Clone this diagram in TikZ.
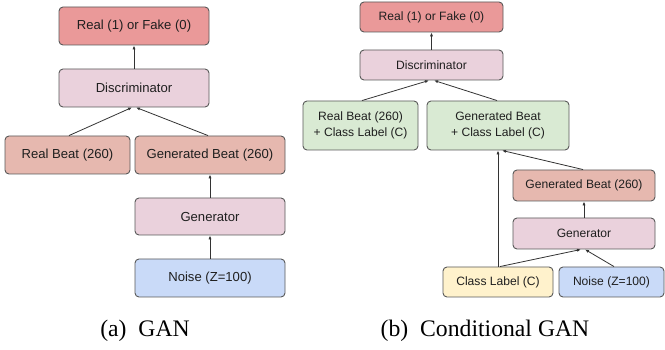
\documentclass[tikz,border=0pt]{standalone}
\usepackage{fontspec}
\setmainfont{Liberation Serif}
\newfontfamily\boxfont{Liberation Sans}
\usetikzlibrary{arrows.meta}
\definecolor{cRF}{HTML}{EA9999}
\definecolor{cDG}{HTML}{EAD1DC}
\definecolor{cBeat}{HTML}{E6B8AF}
\definecolor{cNoise}{HTML}{C9DAF8}
\definecolor{cGreen}{HTML}{D9EAD3}
\definecolor{cYellow}{HTML}{FFF2CC}
\definecolor{cBorder}{HTML}{595959}
\definecolor{cText}{HTML}{1F1F1F}
\definecolor{cArrow}{HTML}{333333}
\tikzset{
  box/.style={draw=cBorder, line width=0.9pt, rounded corners=4pt, inner sep=0pt,
    text=cText, align=center},
  lbox/.style={box, font=\boxfont\fontsize{13.1}{16}\selectfont},
  rbox/.style={box, font=\boxfont\fontsize{12.1}{16.5}\selectfont},
  arr/.style={draw=cArrow, line width=0.8pt, -{Latex[length=4pt,width=3.2pt]}},
  captext/.style={font=\fontsize{23.7}{28}\selectfont, anchor=base, inner sep=0pt}
}
\begin{document}
\begin{tikzpicture}[x=1pt,y=-1pt]
\useasboundingbox (0,0) rectangle (665,350);
% ---------- (a) GAN ----------
\node[lbox, fill=cRF, minimum width=150pt, minimum height=38pt] (rf) at (134,26) {Real (1) or Fake (0)};
\node[lbox, fill=cDG, minimum width=150pt, minimum height=38pt] (disc) at (134,88) {Discriminator};
\node[lbox, fill=cBeat, minimum width=125pt, minimum height=38pt] (rb) at (67.5,155) {Real Beat (260)};
\node[lbox, fill=cBeat, minimum width=150pt, minimum height=38pt] (gb) at (210,155) {Generated Beat (260)};
\node[lbox, fill=cDG, minimum width=150pt, minimum height=37pt] (gen) at (210,216.5) {Generator};
\node[lbox, fill=cNoise, minimum width=150pt, minimum height=38pt] (noise) at (210,278) {Noise (Z=100)};
\draw[arr] (disc.north) -- (rf.south);
\draw[arr] ([xshift=1.5pt]rb.north) -- ([xshift=-2pt]disc.south);
\draw[arr] ([xshift=-2pt]gb.north) -- ([xshift=2pt]disc.south);
\draw[arr] (gen.north) -- (gb.south);
\draw[arr] (noise.north) -- (gen.south);
\node[captext] (capa) at (145,336) {(a)\ \ GAN};
% ---------- (b) Conditional GAN ----------
\node[rbox, fill=cRF, minimum width=143pt, minimum height=30pt] (rf2) at (431.5,17) {Real (1) or Fake (0)};
\node[rbox, fill=cDG, minimum width=143pt, minimum height=30pt] (disc2) at (431.5,65) {Discriminator};
\node[rbox, fill=cGreen, minimum width=115pt, minimum height=49pt] (rbc) at (360.5,125.5) {Real Beat (260)\\+ Class Label (C)};
\node[rbox, fill=cGreen, minimum width=142pt, minimum height=49pt] (gbc) at (498,125.5) {Generated Beat\\+ Class Label (C)};
\node[rbox, fill=cBeat, minimum width=142pt, minimum height=31pt] (gb2) at (584,185.5) {Generated Beat (260)};
\node[rbox, fill=cDG, minimum width=142pt, minimum height=31pt] (gen2) at (584,233.5) {Generator};
\node[rbox, fill=cYellow, minimum width=110pt, minimum height=30pt] (cl) at (498,282) {Class Label (C)};
\node[rbox, fill=cNoise, minimum width=105pt, minimum height=30pt] (noise2) at (611.5,282) {Noise (Z=100)};
\draw[arr] (disc2.north) -- (rf2.south);
\draw[arr] ([xshift=1.5pt]rbc.north) -- ([xshift=-2.5pt]disc2.south);
\draw[arr] ([xshift=-1pt]gbc.north) -- ([xshift=2.5pt]disc2.south);
\draw[arr] (cl.north) -- (gbc.south);
\draw[arr] ([xshift=-1pt]gb2.north) -- ([xshift=4pt]gbc.south);
\draw[arr] (gen2.north) -- (gb2.south);
\draw[arr] ([xshift=2pt]cl.north) -- ([xshift=-3pt]gen2.south);
\draw[arr] ([xshift=2.5pt]noise2.north) -- ([xshift=1pt]gen2.south);
\node[captext] (capb) at (485,336) {(b)\ \ Conditional GAN};
\end{tikzpicture}
\end{document}
